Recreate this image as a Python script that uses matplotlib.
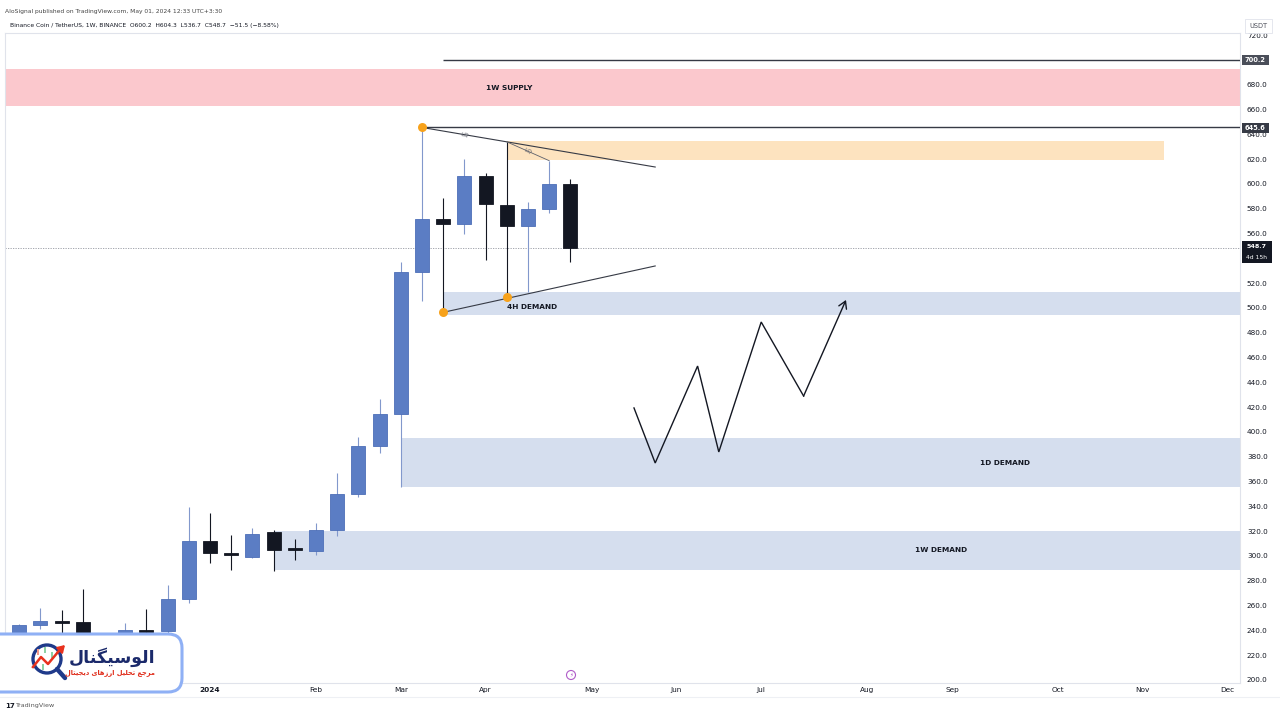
import matplotlib
matplotlib.use("Agg")
import matplotlib.pyplot as plt
from matplotlib.patches import Rectangle, FancyBboxPatch, Circle

# ---------------- data ----------------
weeks = [-9, -8, -7, -6, -5, -4, -3, -2, -1, 0, 1, 2, 3, 4, 5, 6, 7, 8, 9, 10, 11, 12, 13, 14, 15, 16, 17]
opens = [236, 244, 247.5, 246.8, 228, 230, 240, 239.5, 265, 311.8, 302.5, 299, 319, 305.8, 304, 321, 350, 388.7,
         414.5, 528.8, 571.5, 567.5, 606.5, 583.3, 566, 579.6, 600.2]
highs = [245, 258, 256.5, 273, 236, 246, 257.5, 276.6, 339.5, 335, 317, 322.6, 321, 313.5, 327, 367, 396, 427,
         537, 645.6, 588.5, 620, 608.6, 634, 585.7, 618.8, 604.3]
lows = [228, 241, 236, 228, 220, 226, 233, 236, 262, 294, 289, 298, 288, 296.5, 300.8, 316, 347.6, 383,
        355.6, 505.6, 496.5, 560, 538.7, 508.8, 512.8, 577, 536.7]
closes = [244.4, 247.6, 246.8, 232, 230, 240.3, 239.5, 265, 312, 302.7, 301.2, 318, 305, 305.2, 321, 350, 388.7,
          414.5, 528.8, 571.5, 567.7, 606.5, 583.9, 566.1, 579.6, 600.2, 548.7]

month_weeks = [0, 5, 9, 13, 18, 22, 26, 31, 35, 40, 44, 48]
month_labels = ["2024", "Feb", "Mar", "Apr", "May", "Jun", "Jul", "Aug", "Sep", "Oct", "Nov", "Dec"]

# zones: (start week, low, high, label)
zone_supply = (-9.67, 662.9, 692.7, "1W SUPPLY")
zone_orange = (14, 619.4, 634.7, 45)
zone_4h = (11, 494.4, 512.9, "4H DEMAND")
zone_1d = (9, 355.6, 395.2, "1D DEMAND")
zone_1w = (3, 288.7, 320.2, "1W DEMAND")

level_hi = (11, 700.2)
level_ath = (10, 645.6)
last_price = 548.7

upper_trend_w = [10, 21]
upper_trend_p = [645.6, 613.7]
lower_trend_w = [11, 21]
lower_trend_p = [496.5, 533.9]
lq_line_w = [14, 16]
lq_line_p = [634.0, 618.8]
pivot_w = [10, 11, 14]
pivot_p = [645.6, 496.5, 508.8]

zig_w = [20, 21, 23, 24, 26, 28, 30]
zig_p = [419.4, 375.0, 453.2, 383.9, 488.7, 429.0, 506.5]

yticks = list(range(200, 740, 20))

# ---------------- style ----------------
UP = "#5b7dc4"
UP_EDGE = "#4d6fb8"
UP_WICK = "#8298cc"
DN = "#131722"
TXT = "#131722"
ZONE_BLUE = "#d5deee"

fig = plt.figure(figsize=(12.8, 7.2), dpi=100)
fig.patch.set_facecolor("white")

X0, X1, YT, YB = 5, 1240, 33, 683
ax = fig.add_axes([X0 / 1280, (720 - YB) / 720, (X1 - X0) / 1280, (YB - YT) / 720])
PX_W = 21.2
PX_P = 1.24
xmin = (X0 - 210) / PX_W
xmax = (X1 - 210) / PX_W
ymin = 200 - (YB - 680) / PX_P
ymax = 200 + (680 - YT) / PX_P
ax.set_xlim(xmin, xmax)
ax.set_ylim(ymin, ymax)

for s in ax.spines.values():
    s.set_color("#e0e3eb")
    s.set_linewidth(0.8)

# zones
def zone(start, lo, hi, end=None, color=ZONE_BLUE):
    e = xmax if end is None else end
    ax.add_patch(Rectangle((start, lo), e - start, hi - lo, facecolor=color, edgecolor="none", zorder=1))

zone(zone_supply[0], zone_supply[1], zone_supply[2], color="#fbc8cd")
zone(zone_orange[0], zone_orange[1], zone_orange[2], end=zone_orange[3], color="#fde3bf")
zone(zone_4h[0], zone_4h[1], zone_4h[2])
zone(zone_1d[0], zone_1d[1], zone_1d[2])
zone(zone_1w[0], zone_1w[1], zone_1w[2])

lab_kw = dict(fontsize=5.3, color=TXT, ha="center", va="center", fontweight="bold", zorder=6)
ax.text(xmin + (509 - X0) / PX_W, (zone_supply[1] + zone_supply[2]) / 2, zone_supply[3], **lab_kw)
ax.text(15.2, 500.5, zone_4h[3], **lab_kw)
ax.text(37.5, (zone_1d[1] + zone_1d[2]) / 2, zone_1d[3], **lab_kw)
ax.text(34.5, (zone_1w[1] + zone_1w[2]) / 2, zone_1w[3], **lab_kw)

# horizontal levels
ax.hlines(level_hi[1], level_hi[0], xmax, color="#363a45", lw=1.0, zorder=5)
ax.hlines(level_ath[1], level_ath[0], xmax, color="#363a45", lw=1.0, zorder=5)
ax.axhline(last_price, color="#9598a1", lw=0.6, ls=(0, (1.5, 1.5)), zorder=2)

# candles
body_w = 0.66
for w, o, h, l, c in zip(weeks, opens, highs, lows, closes):
    up = c >= o
    wick_c = UP_WICK if up else DN
    ax.vlines(w, l, h, color=wick_c, lw=0.8, zorder=3)
    lo, hi = min(o, c), max(o, c)
    if hi - lo < 1.6:
        mid = (hi + lo) / 2
        lo, hi = mid - 0.8, mid + 0.8
    ax.add_patch(Rectangle((w - body_w / 2, lo), body_w, hi - lo,
                           facecolor=UP if up else DN, edgecolor=UP_EDGE if up else DN,
                           lw=0.6, zorder=4))

# trend lines
ax.plot(upper_trend_w, upper_trend_p, color="#363a45", lw=0.8, zorder=5)
ax.plot(lower_trend_w, lower_trend_p, color="#363a45", lw=0.8, zorder=5)
ax.plot(lq_line_w, lq_line_p, color="#5d606b", lw=0.6, zorder=5)
ax.text(12.0, 639.8, "LQ", fontsize=4.3, color="#5d606b", rotation=-9, ha="center", va="center", zorder=6)
ax.text(15.0, 626.8, "LQ", fontsize=4.3, color="#5d606b", rotation=-24, ha="center", va="center", zorder=6)
ax.scatter(pivot_w, pivot_p, s=42, color="#f7a21b", zorder=7, linewidths=0)

# zigzag projection
ax.plot(zig_w[:-1], zig_p[:-1], color=TXT, lw=1.0, zorder=6, solid_joinstyle="miter")
ax.annotate("", xy=(zig_w[-1], zig_p[-1]), xytext=(zig_w[-2], zig_p[-2]),
            arrowprops=dict(arrowstyle="->,head_length=0.5,head_width=0.3", color=TXT, lw=1.0,
                            shrinkA=0, shrinkB=0), zorder=6)

# axes ticks
ax.yaxis.tick_right()
ax.set_yticks(yticks)
ax.set_yticklabels([f"{v:.1f}" for v in yticks])
ax.tick_params(axis="y", length=0, pad=5, labelsize=5.2, labelcolor=TXT)
ax.set_xticks(month_weeks)
ax.set_xticklabels(month_labels)
ax.tick_params(axis="x", length=0, pad=3, labelsize=5.3, labelcolor=TXT)
ax.get_xticklabels()[0].set_fontweight("bold")

# ---------------- overlay (pixel coordinates) ----------------
ov = fig.add_axes([0, 0, 1, 1], zorder=10)
ov.set_xlim(0, 1280)
ov.set_ylim(720, 0)
ov.axis("off")
ov.patch.set_alpha(0)

ov.text(5, 12, "AloSignal published on TradingView.com, May 01, 2024 12:33 UTC+3:30",
        fontsize=4.3, color="#444", va="center", ha="left")
ov.text(10, 25, "Binance Coin / TetherUS, 1W, BINANCE  O600.2  H604.3  L536.7  C548.7  \u221251.5 (\u22128.58%)",
        fontsize=4.3, color=TXT, va="center", ha="left")

# USDT box
ov.add_patch(Rectangle((1245, 19), 27, 14, facecolor="white", edgecolor="#e0e3eb", lw=0.6))
ov.text(1258.5, 26, "USDT", fontsize=4.8, color="#50535e", ha="center", va="center")

def tag(y, txt, color, h=10):
    ov.add_patch(Rectangle((1242, y - h / 2), 27, h, facecolor=color, edgecolor="none"))
    ov.text(1255.5, y, txt, fontsize=4.8, color="white", ha="center", va="center", fontweight="bold")

tag(60, "700.2", "#4a4e59")
tag(128, "645.6", "#363a45")
ov.add_patch(Rectangle((1242, 241), 30, 22, facecolor=DN, edgecolor="none"))
ov.text(1257, 246.5, "548.7", fontsize=4.6, color="white", ha="center", va="center", fontweight="bold")
ov.text(1257, 257.5, "4d 15h", fontsize=4.3, color="white", ha="center", va="center")

# small icon on time axis
ov.add_patch(Circle((571, 675), 4.5, facecolor="white", edgecolor="#b05cc8", lw=0.8))
ov.text(571, 675.5, "\u26a1", fontsize=4, color="#b05cc8", ha="center", va="center")

# bottom separator + footer
ov.plot([0, 1280], [697, 697], color="#eef0f4", lw=0.8)
ov.text(5, 706, "17", fontsize=5, color="#131722", fontweight="bold", va="center", ha="left")
ov.text(15, 706, "TradingView", fontsize=4.6, color="#555", va="center", ha="left")

# logo box
ov.add_patch(FancyBboxPatch((-40, 634), 222, 58, boxstyle="round,pad=0,rounding_size=14",
                            facecolor="white", edgecolor="#8fb0f5", lw=2.2))
# icon
ov.add_patch(Circle((47, 659), 14, facecolor="white", edgecolor="#1f3a8a", lw=2.4))
ov.plot([57, 65], [669, 678], color="#1f3a8a", lw=3.2, solid_capstyle="round")
ov.plot([33, 41, 48, 58], [667, 657, 664, 652], color="#e8321e", lw=1.8)
ov.annotate("", xy=(65, 645), xytext=(57, 653),
            arrowprops=dict(arrowstyle="-|>,head_length=0.4,head_width=0.25", color="#e8321e", lw=1.5,
                            shrinkA=0, shrinkB=0))
for (cx, cy, cc) in [(38, 652, "#f29a8d"), (45, 650, "#8ed1a5"), (52, 655, "#8ed1a5"), (43, 667, "#8ed1a5")]:
    ov.add_patch(Rectangle((cx - 1, cy - 3), 2, 6, facecolor=cc, edgecolor="none"))

title_vis = "\uFEDD\uFE8E\uFEE8\uFB95\uFEF4\uFEB3\uFEEE\uFEDF\uFE8D"
w_dijital = "\uFEDD\uFE8E\uFE98\uFEF4\uFEA0\uFEF3\uFEA9"
w_arzhay = "\uFEEF\uFE8E\uFEEB\uFEAF\uFEAD\uFE8D"
w_tahlil = "\uFEDE\uFEF4\uFEE0\uFEA4\uFE97"
w_marja = "\uFECA\uFE9F\uFEAE\uFEE3"
sub_vis = " ".join([w_dijital, w_arzhay, w_tahlil, w_marja])
ov.text(112, 657, title_vis, fontsize=12.5, color="#1b2a6b", fontweight="bold",
        ha="center", va="center", family=["DejaVu Sans"])
ov.text(110, 673, sub_vis, fontsize=4.8, color="#e0301e", fontweight="bold",
        ha="center", va="center", family=["DejaVu Sans"])

fig.savefig("out.png", dpi=100, facecolor="white")
